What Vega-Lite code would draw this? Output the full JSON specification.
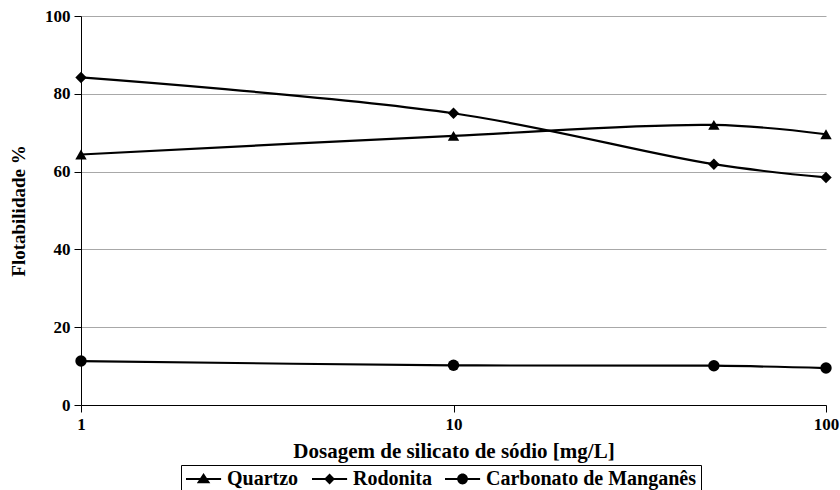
{
  "$schema": "https://vega.github.io/schema/vega-lite/v6.json",
  "width": 745,
  "height": 389,
  "autosize": {"type": "none"},
  "padding": {"left": 81, "top": 16, "right": 14, "bottom": 85},
  "background": "white",
  "config": {
    "view": {"stroke": null},
    "font": "Times New Roman, Liberation Serif, serif"
  },
  "data": {
    "values": [
      {"serie": "Quartzo", "dose": 1, "flot": 64.4},
      {"serie": "Quartzo", "dose": 10, "flot": 69.2},
      {"serie": "Quartzo", "dose": 50, "flot": 72.0},
      {"serie": "Quartzo", "dose": 100, "flot": 69.6},
      {"serie": "Rodonita", "dose": 1, "flot": 84.2},
      {"serie": "Rodonita", "dose": 10, "flot": 75.0},
      {"serie": "Rodonita", "dose": 50, "flot": 61.9},
      {"serie": "Rodonita", "dose": 100, "flot": 58.5},
      {"serie": "Carbonato de Manganês", "dose": 1, "flot": 11.3},
      {"serie": "Carbonato de Manganês", "dose": 10, "flot": 10.2},
      {"serie": "Carbonato de Manganês", "dose": 50, "flot": 10.1},
      {"serie": "Carbonato de Manganês", "dose": 100, "flot": 9.5}
    ]
  },
  "encoding": {
    "x": {
      "field": "dose",
      "type": "quantitative",
      "scale": {"type": "log", "domain": [1, 100]},
      "axis": {
        "title": "Dosagem de silicato de sódio  [mg/L]",
        "values": [1, 10, 100],
        "format": "d",
        "grid": false,
        "domainColor": "black",
        "tickColor": "black",
        "tickSize": 7,
        "labelFont": "Times New Roman, Liberation Serif, serif",
        "labelFontWeight": "bold",
        "labelFontSize": 17,
        "labelColor": "black",
        "labelPadding": 4,
        "labelFlush": false,
        "titleFont": "Times New Roman, Liberation Serif, serif",
        "titleFontWeight": "bold",
        "titleFontSize": 21,
        "titleColor": "black",
        "titlePadding": 8
      }
    },
    "y": {
      "field": "flot",
      "type": "quantitative",
      "scale": {"domain": [0, 100], "nice": false},
      "axis": {
        "title": "Flotabilidade %",
        "values": [0, 20, 40, 60, 80, 100],
        "grid": true,
        "gridColor": "#a8a8a8",
        "gridWidth": 1,
        "domainColor": "black",
        "tickColor": "black",
        "tickSize": 7,
        "labelFont": "Times New Roman, Liberation Serif, serif",
        "labelFontWeight": "bold",
        "labelFontSize": 17,
        "labelColor": "black",
        "labelPadding": 4,
        "titleFont": "Times New Roman, Liberation Serif, serif",
        "titleFontWeight": "bold",
        "titleFontSize": 19,
        "titleColor": "black",
        "titlePadding": 16
      }
    }
  },
  "layer": [
    {
      "mark": {"type": "line", "interpolate": "catmull-rom", "color": "black", "strokeWidth": 2.2},
      "encoding": {"detail": {"field": "serie"}}
    },
    {
      "mark": {"type": "point", "filled": true, "color": "black", "opacity": 1, "size": 130},
      "encoding": {
        "shape": {
          "field": "serie",
          "type": "nominal",
          "scale": {
            "domain": ["Quartzo", "Rodonita", "Carbonato de Manganês"],
            "range": ["triangle-up", "diamond", "circle"]
          },
          "legend": null
        }
      }
    },
    {
      "transform": [{"filter": "false"}],
      "mark": {"type": "point", "filled": true, "color": "black", "opacity": 1},
      "encoding": {
        "shape": {
          "field": "serie",
          "type": "nominal",
          "scale": {
            "domain": ["Quartzo", "Rodonita", "Carbonato de Manganês"],
            "range": [
              "M-1,-0.12H2.9V0.12H-1ZM0.2,0.48L0.95,-0.66L1.7,0.48Z",
              "M-1,-0.12H2.9V0.12H-1ZM0.95,-0.6L1.55,0L0.95,0.6L0.35,0Z",
              "M-1,-0.12H2.9V0.12H-1ZM0.35,0A0.6,0.6 0 1 1 1.55,0A0.6,0.6 0 1 1 0.35,0Z"
            ]
          },
          "legend": {
            "title": null,
            "orient": "none",
            "legendX": 100,
            "legendY": 449,
            "direction": "horizontal",
            "strokeColor": "black",
            "padding": 4,
            "symbolSize": 324,
            "symbolFillColor": "black",
            "symbolOpacity": 1,
            "labelFont": "Times New Roman, Liberation Serif, serif",
            "labelFontWeight": "bold",
            "labelFontSize": 20,
            "labelColor": "black",
            "labelLimit": 400,
            "labelOffset": 22,
            "columnPadding": 10
          }
        }
      }
    }
  ],
  "resolve": {"scale": {"shape": "independent"}, "legend": {"shape": "independent"}}
}
